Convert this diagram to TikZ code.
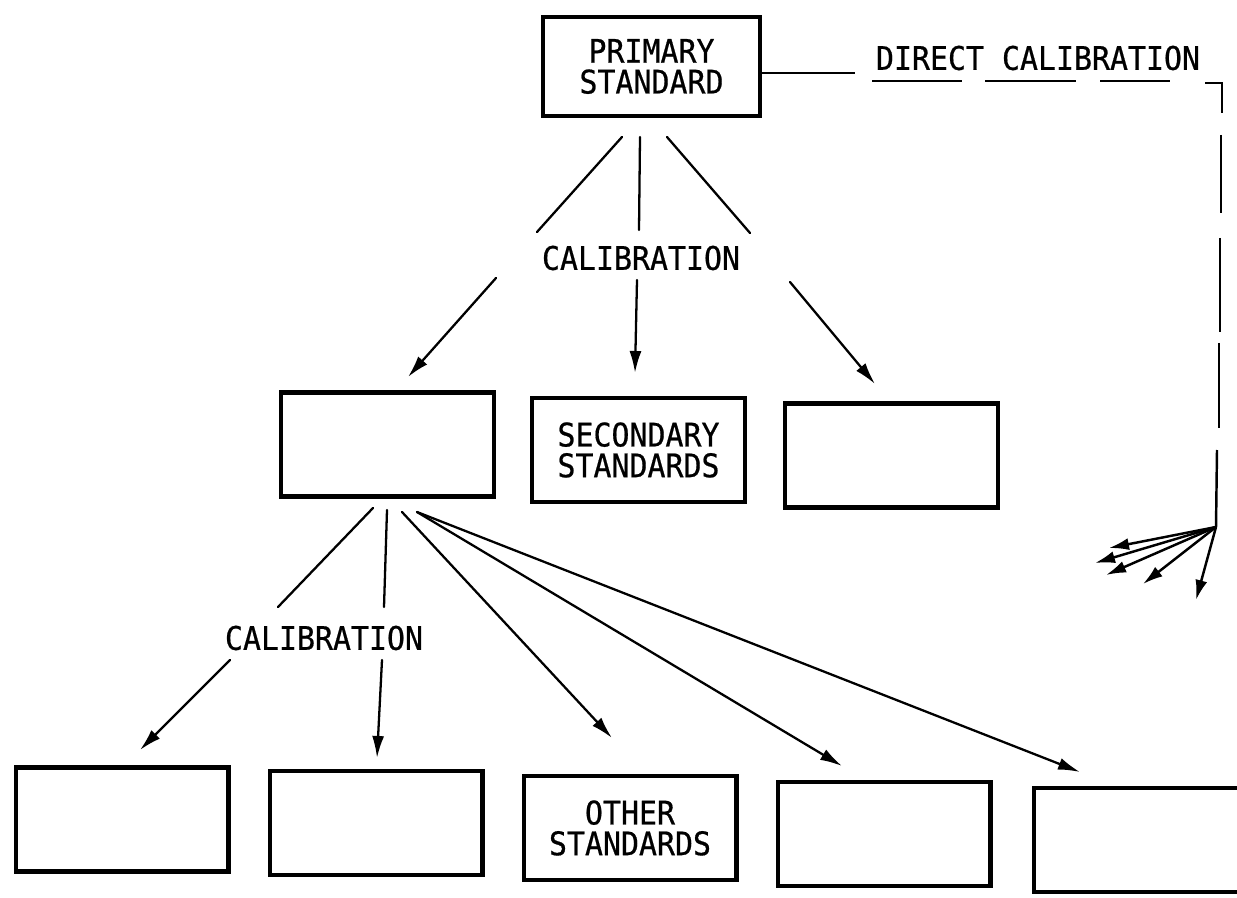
\documentclass[tikz,border=0pt]{standalone}
\usepackage{fontspec}
\newfontfamily\lblfont[FakeStretch=0.92,FakeBold=0.6]{DejaVu Sans Mono}
\usetikzlibrary{arrows.meta}
\tikzset{
  box/.style={draw, line width=2.3pt, minimum width=4.26cm, minimum height=2.08cm, inner sep=0pt, align=center, font=\lblfont\fontsize{18.5}{17.5}\selectfont},
  lbl/.style={inner sep=0pt, font=\lblfont\fontsize{18.5}{17.5}\selectfont},
  conn/.style={line width=1.3pt, line cap=round},
  arr/.style={conn, -{Latex[length=0.44cm,width=0.24cm]}},
  farr/.style={line width=1.4pt, -{Latex[length=0.4cm,width=0.24cm]}},
  dline/.style={line width=1.4pt}
}
\begin{document}
\begin{tikzpicture}[x=0.02cm,y=-0.02cm]
\useasboundingbox (0,0) rectangle (1237,898);
\clip (0,0) rectangle (1237,898);
% boxes
\node[box, minimum width=4.34cm, minimum height=1.98cm] (prim) at (651.5,66.5) {PRIMARY\\STANDARD};
\node[box] (a) at (387.5,444.5) {};
\node[box] (b) at (638.5,450) {SECONDARY\\STANDARDS};
\node[box] (c) at (891.5,455.5) {};
\node[box] (d1) at (122,819.5) {};
\node[box] (d2) at (376,823) {};
\node[box] (d3) at (630,828) {OTHER\\STANDARDS};
\node[box] (d4) at (884,834) {};
\node[box] (d5) at (1140,840) {};
% labels
\node[lbl] (cal1) at (641,258) {CALIBRATION};
\node[lbl] (cal2) at (324,638) {CALIBRATION};
\node[lbl] (dcal) at (1038,58) {DIRECT CALIBRATION};
% upper calibration arrows
\coordinate (p1s) at (622,137); \coordinate (p1e) at (537,232);
\coordinate (p2s) at (640,137); \coordinate (p2e) at (639,230);
\coordinate (p3s) at (667,137); \coordinate (p3e) at (750,233);
\coordinate (q1s) at (496,278); \coordinate (q1e) at (408,377);
\coordinate (q2s) at (637,280); \coordinate (q2e) at (635,373);
\coordinate (q3s) at (790,282); \coordinate (q3e) at (875,384);
\draw[conn] (p1s) -- (p1e);
\draw[conn] (p2s) -- (p2e);
\draw[conn] (p3s) -- (p3e);
\draw[arr] (q1s) -- (q1e);
\draw[arr] (q2s) -- (q2e);
\draw[arr] (q3s) -- (q3e);
% lower calibration arrows
\coordinate (r1s) at (373,508); \coordinate (r1e) at (278,607);
\coordinate (r2s) at (387,510); \coordinate (r2e) at (384,607);
\coordinate (s1s) at (230,660); \coordinate (s1e) at (140,750);
\coordinate (s2s) at (382,660); \coordinate (s2e) at (377,758);
\coordinate (r3s) at (402,512); \coordinate (r3e) at (612,738);
\coordinate (r4s) at (417,512); \coordinate (r4e) at (842,766);
\coordinate (r5e) at (1080,772);
\draw[conn] (r1s) -- (r1e);
\draw[conn] (r2s) -- (r2e);
\draw[arr] (s1s) -- (s1e);
\draw[arr] (s2s) -- (s2e);
\draw[arr] (r3s) -- (r3e);
\draw[arr] (r4s) -- (r4e);
\draw[arr] (r4s) -- (r5e);
% direct calibration line
\coordinate (h1) at (855,73);
\draw[dline] (prim.east |- h1) -- (h1);
\draw[dline] (872,81) -- (962,81);
\draw[dline] (985,81) -- (1076,81);
\draw[dline] (1100,81) -- (1170,81);
\coordinate (corner) at (1222,83);
\draw[dline] (1205,83) -- (corner) -- (1222,113);
\draw[dline] (1221,135) -- (1221,213);
\draw[dline] (1220,238) -- (1220,332);
\draw[dline] (1219,343) -- (1219,428);
\coordinate (J) at (1216,527);
\draw[dline] (1217,450) -- (J);
\coordinate (f1) at (1095,563);
\coordinate (f2) at (1109,548);
\coordinate (f3) at (1106,575);
\coordinate (f4) at (1143,584);
\coordinate (f5) at (1196,600);
\foreach \t in {f1,f2,f3,f4,f5} \draw[farr] (J) -- (\t);
\end{tikzpicture}
\end{document}
